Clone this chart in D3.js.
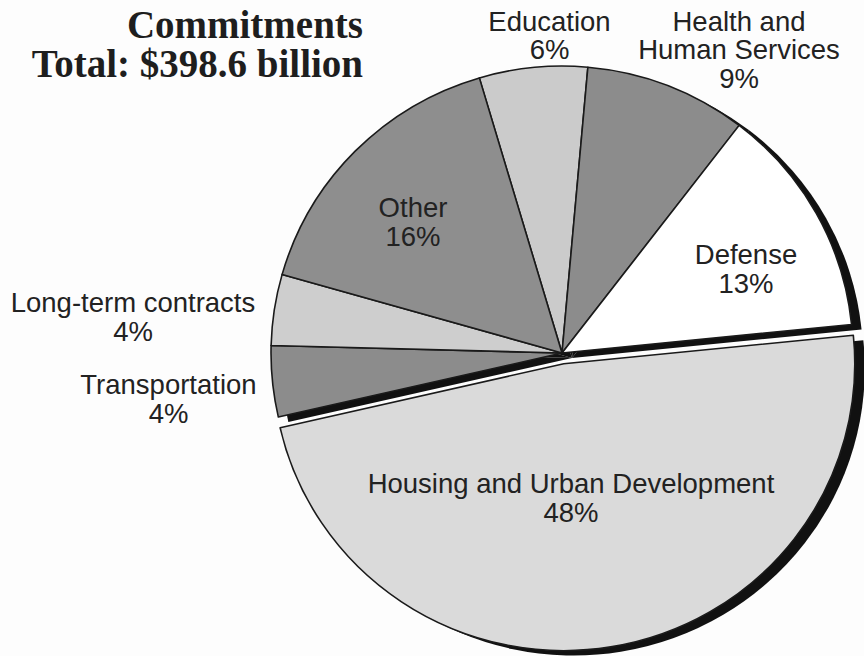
<!DOCTYPE html>
<html>
<head>
<meta charset="utf-8">
<script src="https://cdn.jsdelivr.net/npm/d3@7"></script>
<style>
  html, body { margin: 0; padding: 0; background: #fdfdfd; }
  svg { display: block; }
</style>
</head>
<body>
<svg id="chart" width="864" height="656"></svg>
<script>
// Budget commitments by agency, share of total (percent)
const categories = ["Education", "Health and Human Services", "Defense",
  "Housing and Urban Development", "Transportation", "Long-term contracts", "Other"];
const shares = [6, 9, 13, 48, 4, 4, 16];
const labelLines = [
  ["Education", "6%"],
  ["Health and", "Human Services", "9%"],
  ["Defense", "13%"],
  ["Housing and Urban Development", "48%"],
  ["Transportation", "4%"],
  ["Long-term contracts", "4%"],
  ["Other", "16%"]
];
const titleLines = ["Commitments", "Total: $398.6 billion"];

// ---- styling & layout ----
const fills = {
  "Education": "#cbcbcb",
  "Health and Human Services": "#8c8c8c",
  "Defense": "#ffffff",
  "Housing and Urban Development": "#dadada",
  "Transportation": "#8c8c8c",
  "Long-term contracts": "#cecece",
  "Other": "#8e8e8e"
};
const explodedCategory = "Housing and Urban Development";
const cx = 562, cy = 353, radius = 291, squash = 0.986;
const explodeBy = 11;
const shadowDx = 10, shadowDy = 5;
const startDeg = -16.5;

// label anchor (centre x, first baseline y) and line spacing
const labelPos = {
  "Education": [549.5, 30.5],
  "Health and Human Services": [739, 30.5],
  "Defense": [746, 264],
  "Housing and Urban Development": [571, 493],
  "Transportation": [168.5, 394],
  "Long-term contracts": [133, 312],
  "Other": [413, 217]
};
const lineGap = 28.5;

const data = categories.map((c, i) => ({ category: c, share: shares[i], lines: labelLines[i] }));

const svg = d3.select("#chart");

const startA = startDeg * Math.PI / 180;
const pie = d3.pie()
  .sort(null)
  .value(d => d.share)
  .startAngle(startA)
  .endAngle(startA + 2 * Math.PI);

const arc = d3.arc().innerRadius(0).outerRadius(radius);
const arcs = pie(data);

function offsetOf(d) {
  if (d.data.category !== explodedCategory) return [0, 0];
  const mid = (d.startAngle + d.endAngle) / 2;
  return [explodeBy * Math.sin(mid), -explodeBy * Math.cos(mid)];
}

const g = svg.append("g").attr("transform", `translate(${cx},${cy}) scale(1,${squash})`);

// drop shadows, drawn beneath every slice
g.append("g").selectAll("path")
  .data(arcs)
  .join("path")
  .attr("d", arc)
  .attr("transform", d => {
    const [ox, oy] = offsetOf(d);
    return `translate(${ox + shadowDx},${oy + shadowDy})`;
  })
  .attr("fill", "#111");

// slices
g.append("g").selectAll("path")
  .data(arcs)
  .join("path")
  .attr("d", arc)
  .attr("transform", d => {
    const [ox, oy] = offsetOf(d);
    return `translate(${ox},${oy})`;
  })
  .attr("fill", d => fills[d.data.category])
  .attr("stroke", "#1a1a1a")
  .attr("stroke-width", 1.6)
  .attr("stroke-linejoin", "round");

// slice labels
const labels = svg.append("g")
  .attr("font-family", "'Liberation Sans', Arial, Helvetica, sans-serif")
  .attr("font-size", 27.5)
  .attr("fill", "#222")
  .attr("text-anchor", "middle");

labels.selectAll("text")
  .data(data)
  .join("text")
  .attr("x", d => labelPos[d.category][0])
  .attr("y", d => labelPos[d.category][1])
  .selectAll("tspan")
  .data(d => d.lines.map(t => ({ t, x: labelPos[d.category][0] })))
  .join("tspan")
  .attr("x", d => d.x)
  .attr("dy", (d, i) => i === 0 ? 0 : lineGap)
  .text(d => d.t);

// title
const title = svg.append("text")
  .attr("font-family", "'Liberation Serif', 'Times New Roman', Times, serif")
  .attr("font-weight", "bold")
  .attr("font-size", 39)
  .attr("fill", "#1e1e1e")
  .attr("text-anchor", "end");
title.selectAll("tspan")
  .data(titleLines)
  .join("tspan")
  .attr("x", 363)
  .attr("y", (d, i) => 38 + i * 39)
  .text(d => d);
</script>
</body>
</html>
